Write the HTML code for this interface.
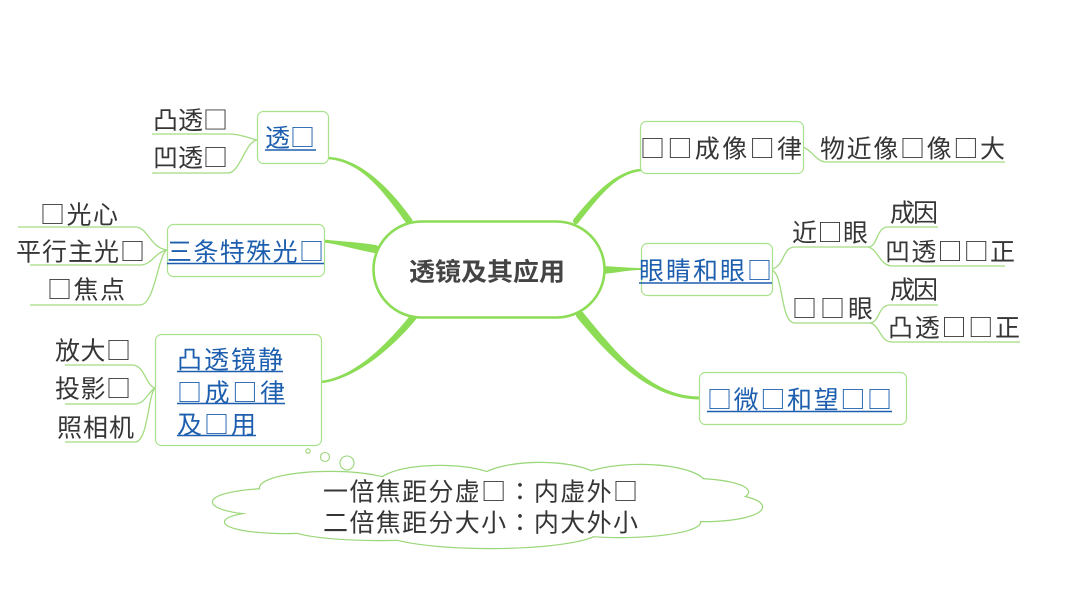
<!DOCTYPE html>
<html><head><meta charset="utf-8">
<style>
html,body{margin:0;padding:0;background:#fff;}
svg{display:block;}
text{font-family:"Noto Sans CJK SC","Liberation Sans",sans-serif;font-size:25px;}
.k{fill:#363636;}
.b{fill:#1d5fae;}
.u{stroke:#1d5fae;stroke-width:1.6;}
.thin{fill:none;stroke:#a3dc82;stroke-width:1.3;}
.box{fill:#fff;stroke:#a9e28c;stroke-width:1.2;}
.c{font-family:"Noto Sans CJK TC","Noto Sans CJK JP",sans-serif;}
</style></head>
<body>
<svg id="s" width="1066" height="600" viewBox="0 0 1066 600" xmlns="http://www.w3.org/2000/svg">
<rect width="1066" height="600" fill="#fff"/>

<g id="thick" fill="#8cdc55"></g>

<g class="thin">
<path d="M257,140 C248,138 240,134 230,134 L152,134"/>
<path d="M257,140 C245,142 240,173 228,173 L152,173"/>
<path d="M167,250 C150,248 148,227 135,227 L18,227"/>
<path d="M167,250 C155,252 152,265 140,265 L30,265"/>
<path d="M167,250 C158,254 155,305 140,305 L30,305"/>
<path d="M155,388 C145,385 145,365 132,365 L65,365"/>
<path d="M155,388 C148,392 145,404 135,404 L65,404"/>
<path d="M155,388 C148,395 148,442 135,442 L65,442"/>
<path d="M803,147 C812,150 816,162 827,162 L1005,162"/>
<path d="M772,269 C785,266 782,247 795,247 L868,247"/>
<path d="M868,247 C878,247 876,227 888,227 L938,227"/>
<path d="M868,247 C878,249 880,266 892,266 L1005,266"/>
<path d="M772,270 C784,275 780,323 795,323 L870,323"/>
<path d="M870,323 C880,322 878,305 890,305 L938,305"/>
<path d="M870,323 C880,325 880,342 892,342 L1020,342"/>
</g>

<rect x="373.5" y="221.5" width="231" height="96" rx="48" ry="48" fill="#fff" stroke="#8cdc55" stroke-width="2.6"/>
<text x="409" y="280.5" textLength="156" lengthAdjust="spacingAndGlyphs" style="font-weight:bold;fill:#444;">透镜及其应用</text>

<rect class="box" x="257.5" y="111.5" width="71" height="52" rx="6"/>
<rect class="box" x="167.5" y="224.5" width="157" height="52" rx="6"/>
<rect class="box" x="155.5" y="334.5" width="166" height="111" rx="6"/>
<rect class="box" x="640.5" y="121.5" width="163" height="52" rx="6"/>
<rect class="box" x="641.5" y="243.5" width="131" height="52" rx="6"/>
<rect class="box" x="699.5" y="372.5" width="207" height="52" rx="6"/>

<text class="k" x="153" y="129" textLength="75">凸透□</text>
<text class="k" x="153" y="166.5" textLength="75">凹透□</text>
<text class="b" x="265" y="146.5" textLength="50">透□</text>
<line class="u" x1="265" y1="150" x2="316" y2="150"/>

<text class="k" x="40" y="223.5" textLength="78">□光心</text>
<text class="k" x="16" y="260.5" textLength="129">平行主光□</text>
<text class="k" x="47" y="298.5" textLength="78">□焦点</text>
<text class="b" x="167" y="260.5" textLength="157">三条特殊光□</text>
<line class="u" x1="167" y1="263.5" x2="324" y2="263.5"/>

<text class="k" x="55" y="359.5" textLength="76">放大□</text>
<text class="k" x="55" y="397.5" textLength="76">投影□</text>
<text class="k" x="57" y="436.5" textLength="77">照相机</text>
<text class="b" x="177" y="368.5" textLength="106">凸透镜静</text>
<line class="u" x1="177" y1="371.5" x2="283" y2="371.5"/>
<text class="b" x="177" y="401.5" textLength="108">□成□律</text>
<line class="u" x1="177" y1="403.5" x2="285" y2="403.5"/>
<text class="b" x="177" y="433.5" textLength="79">及□用</text>
<line class="u" x1="177" y1="435.5" x2="256" y2="435.5"/>

<text class="k" x="640" y="157.5" textLength="162">□□成像□律</text>
<text class="k" x="820" y="157.5" textLength="185">物近像□像□大</text>
<text class="b" x="639" y="279.5" textLength="133">眼睛和眼□</text>
<line class="u" x1="639" y1="283" x2="772" y2="283"/>
<text class="k" x="792" y="241.5" textLength="76">近□眼</text>
<text class="k" x="890" y="221.5" textLength="48">成因</text>
<text class="k" x="885" y="260.5" textLength="130">凹透□□正</text>
<text class="k" x="792" y="317.5" textLength="81">□□眼</text>
<text class="k" x="890" y="298.5" textLength="48">成因</text>
<text class="k" x="888" y="336.5" textLength="132">凸透□□正</text>
<text class="b" x="707" y="408.5" textLength="185">□微□和望□□</text>
<line class="u" x1="707" y1="411.5" x2="892" y2="411.5"/>

<g id="cloud"></g>
<circle cx="308" cy="451" r="2.2" fill="#fff" stroke="#9bd77a" stroke-width="1.1"/>
<circle cx="325" cy="457" r="4.5" fill="#fff" stroke="#9bd77a" stroke-width="1.1"/>
<circle cx="347" cy="463" r="7" fill="#fff" stroke="#9bd77a" stroke-width="1.1"/>
<text class="k" x="323" y="500.5" textLength="315">一倍焦距分虚□<tspan class="c">：</tspan>内虚外□</text>
<text class="k" x="323" y="531.5" textLength="315">二倍焦距分大小<tspan class="c">：</tspan>内大外小</text>

<script>
(function(){
  var NS="http://www.w3.org/2000/svg";
  function taper(p0,p1,p2,p3,w0,w3){
    function norm(a,b){var dx=b[0]-a[0],dy=b[1]-a[1],l=Math.sqrt(dx*dx+dy*dy)||1;return [-dy/l,dx/l];}
    var n0=norm(p0,p1), n3=norm(p2,p3);
    var h0=w0/2,h3=w3/2;
    function o(p,n,h){return [p[0]+n[0]*h,p[1]+n[1]*h];}
    var a0=o(p0,n0,h0),a1=o(p1,n0,h0),a2=o(p2,n3,h3),a3=o(p3,n3,h3);
    var b0=o(p0,n0,-h0),b1=o(p1,n0,-h0),b2=o(p2,n3,-h3),b3=o(p3,n3,-h3);
    function f(p){return p[0].toFixed(2)+","+p[1].toFixed(2);}
    return "M"+f(a0)+" C"+f(a1)+" "+f(a2)+" "+f(a3)+" L"+f(b3)+" C"+f(b2)+" "+f(b1)+" "+f(b0)+" Z";
  }
  var g=document.getElementById("thick");
  var cons=[
    [[409,221],[388,192],[362,160],[328,158],7,2.5],
    [[375,249],[358,246],[340,243],[324,241],8,3],
    [[415,315],[392,344],[356,378],[321,382],7,2.5],
    [[576,221],[596,196],[616,172],[641,170],6,2.5],
    [[598,270],[612,270],[627,269],[641,269],8,2],
    [[580,315],[614,356],[650,398],[700,398],8,3]
  ];
  cons.forEach(function(c){
    var p=document.createElementNS(NS,"path");
    p.setAttribute("d",taper(c[0],c[1],c[2],c[3],c[4],c[5]));
    g.appendChild(p);
    var ci=document.createElementNS(NS,"circle");
    ci.setAttribute("cx",c[0][0]);ci.setAttribute("cy",c[0][1]);ci.setAttribute("r",c[4]/2);
    g.appendChild(ci);
  });
  var E=[
    [330,488,70,16],[440,484,62,18],[540,482,62,19],[640,484,65,19],
    [690,492,58,13],[705,507,57,14],
    [275,502,62,13],[285,522,60,11],
    [380,528,90,12],[490,530,110,18],[620,522,80,15],
    [490,505,230,30]
  ];
  var cg=document.getElementById("cloud");
  E.forEach(function(e){
    var el=document.createElementNS(NS,"ellipse");
    el.setAttribute("cx",e[0]);el.setAttribute("cy",e[1]);el.setAttribute("rx",e[2]);el.setAttribute("ry",e[3]);
    el.setAttribute("fill","none");el.setAttribute("stroke","#9bd77a");el.setAttribute("stroke-width","2.4");
    cg.appendChild(el);
  });
  E.forEach(function(e){
    var el=document.createElementNS(NS,"ellipse");
    el.setAttribute("cx",e[0]);el.setAttribute("cy",e[1]);el.setAttribute("rx",e[2]);el.setAttribute("ry",e[3]);
    el.setAttribute("fill","#fff");
    cg.appendChild(el);
  });
})();
</script>
</svg>
</body></html>
